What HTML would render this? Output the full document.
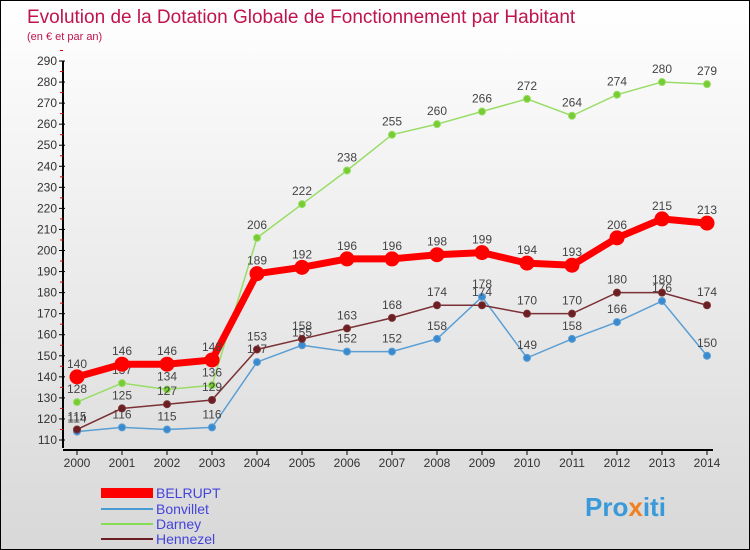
<!DOCTYPE html>
<html><head><meta charset="utf-8"><style>
body{margin:0}
#c{width:750px;height:550px;position:relative;overflow:hidden;box-sizing:border-box;border:1px solid #000;background:linear-gradient(#fff 0%,#f3f3f3 30%,#d8d8d8 100%);font-family:"Liberation Sans",sans-serif}
</style></head><body>
<div id="c">
<svg id="s" width="750" height="550" style="position:absolute;left:0;top:0">
<text x="26" y="22" font-size="19" fill="#c0144c">Evolution de la Dotation Globale de Fonctionnement par Habitant</text>
<text x="26" y="39" font-size="11" fill="#c0144c">(en € et par an)</text>
<g id="axes"></g><g id="series"></g>
<g>
<rect x="100" y="487" width="52" height="10" fill="#f00"/>
<text x="155" y="497" font-size="14" fill="#4444dd">BELRUPT</text>
<line x1="100" y1="508" x2="152" y2="508" stroke="#4a9ad4" stroke-width="2"/>
<text x="155" y="513" font-size="14" fill="#4444dd">Bonvillet</text>
<line x1="100" y1="523" x2="152" y2="523" stroke="#88dd55" stroke-width="2"/>
<text x="155" y="528" font-size="14" fill="#4444dd">Darney</text>
<line x1="100" y1="538" x2="152" y2="538" stroke="#6b1f22" stroke-width="2"/>
<text x="155" y="543" font-size="14" fill="#4444dd">Hennezel</text>
</g>
<text x="584" y="515" font-size="26" font-weight="bold" fill="#3a9ad9">Pro<tspan fill="#f08020">x</tspan>iti</text>
</svg>
<script>
const years=[2000,2001,2002,2003,2004,2005,2006,2007,2008,2009,2010,2011,2012,2013,2014];
const belrupt=[140,146,146,148,189,192,196,196,198,199,194,193,206,215,213];
const bonvillet=[114,116,115,116,147,155,152,152,158,178,149,158,166,176,150];
const darney=[128,137,134,136,206,222,238,255,260,266,272,264,274,280,279];
const hennezel=[115,125,127,129,153,158,163,168,174,174,170,170,180,180,174];
const yTicks=[110,120,130,140,150,160,170,180,190,200,210,220,230,240,250,260,270,280,290];
const NS="http://www.w3.org/2000/svg";
const X=i=>76+i*45, Y=v=>439-(v-110)*(379/180);
function mk(t,a,p){const e=document.createElementNS(NS,t);for(const k in a)e.setAttribute(k,a[k]);p.appendChild(e);return e;}
const ax=document.getElementById('axes');
let l=mk('line',{x1:62,y1:Y(290),x2:62,y2:Y(110)+8,stroke:'#000','stroke-width':2},ax);

l=mk('line',{x1:62,y1:449,x2:712,y2:449,stroke:'#000','stroke-width':2},ax);

yTicks.forEach(v=>{mk('line',{x1:58,y1:Y(v),x2:64,y2:Y(v),stroke:'#000'},ax);
mk('line',{x1:59,y1:Y(v+5),x2:62,y2:Y(v+5),stroke:'#e00'},ax);
const t=mk('text',{x:56,y:Y(v)+4,'text-anchor':'end','font-size':12,fill:'#333'},ax);t.textContent=v;
});
years.forEach((y,i)=>{mk('line',{x1:X(i),y1:449,x2:X(i),y2:454,stroke:'#000'},ax);
const t=mk('text',{x:X(i),y:466,'text-anchor':'middle','font-size':12,fill:'#333'},ax);t.textContent=y;
});
const sg=document.getElementById('series');
function draw(name,data,color,w,r,dot){const g=mk('g',{},sg);

const p=mk('polyline',{points:data.map((v,i)=>X(i)+','+Y(v)).join(' '),fill:'none',stroke:color,'stroke-width':w},g);

data.forEach((v,i)=>{const c=mk('circle',{cx:X(i),cy:Y(v),r:r,fill:dot,stroke:color,'stroke-width':1},g);

const t=mk('text',{x:X(i),y:Y(v)-9,'text-anchor':'middle','font-size':12,fill:'#444'},g);t.textContent=v;
});}
draw('darney',darney,'#99dd66',1.5,3.5,'#77cc33');
draw('bonvillet',bonvillet,'#5a9ed4',1.5,3.5,'#3a8ad0');
draw('hennezel',hennezel,'#7a3034',1.5,3.5,'#6b1f22');
draw('belrupt',belrupt,'#ff0000',7,7,'#ff0000');
</script>
</div>
</body></html>
